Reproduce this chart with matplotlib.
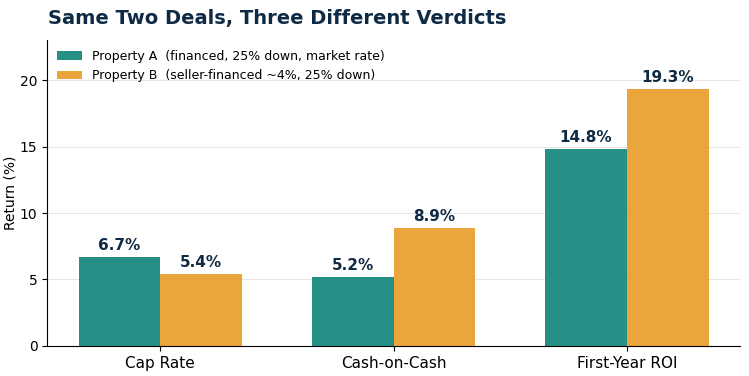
import numpy as np
import matplotlib
matplotlib.use('Agg')
import matplotlib.pyplot as plt

categories = ['Cap Rate', 'Cash-on-Cash', 'First-Year ROI']
prop_a = [6.7, 5.2, 14.8]
prop_b = [5.4, 8.9, 19.3]
label_a = 'Property A  (financed, 25% down, market rate)'
label_b = 'Property B  (seller-financed ~4%, 25% down)'

teal = '#1a8a80'
orange = '#e9a031'
navy = '#0f2a44'

fig, ax = plt.subplots(figsize=(7.49, 3.76), dpi=100)
x = np.arange(len(categories))
w = 0.35

ba = ax.bar(x - w/2, prop_a, w, color=teal, alpha=0.95, label=label_a, zorder=2)
bb = ax.bar(x + w/2, prop_b, w, color=orange, alpha=0.95, label=label_b, zorder=2)

for bars, vals in ((ba, prop_a), (bb, prop_b)):
    for b, v in zip(bars, vals):
        ax.text(b.get_x() + b.get_width()/2, v + 0.3, f'{v:.1f}%', ha='center', va='bottom',
                fontsize=11, fontweight='bold', color=navy)

ax.set_xticks(x)
ax.set_xticklabels(categories, fontsize=11)
ax.set_ylim(0, 23)
ax.set_yticks([0, 5, 10, 15, 20])
ax.tick_params(axis='y', labelsize=10)
ax.set_ylabel('Return (%)', fontsize=10, labelpad=2)
ax.grid(axis='y', color='#e6e6e6', linewidth=0.8, zorder=0)
ax.set_axisbelow(True)
ax.spines['top'].set_visible(False)
ax.spines['right'].set_visible(False)

ax.legend(loc='upper left', frameon=False, fontsize=9, borderaxespad=0.4)
fig.text(0.064, 0.952, 'Same Two Deals, Three Different Verdicts', fontsize=14,
         fontweight='bold', color=navy, ha='left', va='center')

fig.subplots_adjust(left=0.063, right=0.988, top=0.893, bottom=0.08)
fig.savefig('out.png', dpi=100)
